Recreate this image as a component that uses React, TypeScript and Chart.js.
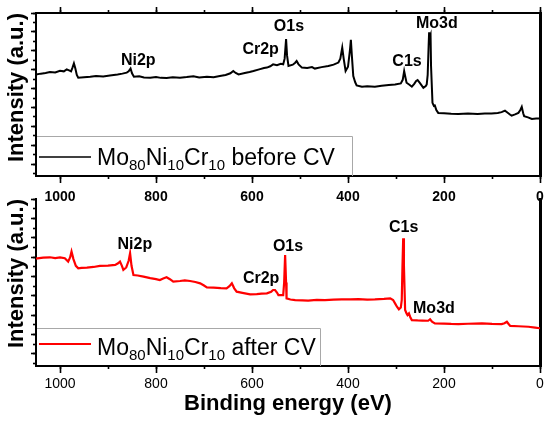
import React, { useEffect, useRef } from "react";
import { Chart, registerables } from "chart.js";
Chart.register(...registerables);

const FONT = "'Liberation Sans', Arial, Helvetica, sans-serif";

// ---- Data ----
const xTickLabels = ["1000", "800", "600", "400", "200", "0"];

const beforeLabel = "Mo80Ni10Cr10 before CV";
const beforeBE = [1050, 1040, 1030, 1021, 1010, 1000, 992, 986, 980, 977, 974, 971, 968, 965, 962, 950, 937, 925, 910, 896, 880, 870, 861, 857, 853, 850, 846, 835, 825, 812, 800, 790, 778, 765, 750, 736, 722, 710, 694, 680, 667, 655, 645, 639, 634, 628, 615, 605, 597, 585, 575, 569, 562, 556, 548, 540, 535, 532, 529, 527, 524, 515, 510, 507, 503, 496, 485, 475, 469, 455, 441, 430, 420, 416, 412, 409, 405, 400, 396, 394, 392, 389, 385, 382, 371, 360, 344, 330, 315, 302, 290, 286, 283, 280, 278, 272, 267, 262, 258, 255, 250, 243, 238, 236, 234, 232, 231, 229.5, 228, 227, 224, 221, 219, 216, 212, 200, 185, 170, 150, 130, 115, 101, 88, 80, 73, 68, 62, 59, 52, 45, 41, 38, 35, 33, 25, 17, 8, 0];
const beforeI = [62.3, 62.8, 63.2, 63.8, 63.5, 64.6, 64.2, 65.4, 64.6, 64.2, 66.5, 69.1, 66, 62, 60.3, 60.6, 60.9, 61.3, 61.0, 61.7, 62.3, 62.8, 63.4, 64.2, 65.9, 63, 60.9, 61.2, 60.5, 60.3, 60.8, 60.2, 60.1, 60.6, 60.3, 60.7, 61.2, 60.5, 60.9, 60.6, 61.3, 62.0, 63.0, 64.4, 63.2, 62.3, 63.2, 63.8, 64.4, 65.4, 66.2, 66.5, 67.3, 68.5, 68.0, 68.8, 68.5, 72, 84.0, 74, 67.5, 68.3, 69.5, 70.6, 68.5, 66.5, 66.2, 66.8, 65.9, 66.8, 67.5, 68.3, 69.6, 72, 78.8, 72, 64.4, 67, 77, 83.5, 74, 61.3, 57.5, 55.6, 54.8, 55.0, 54.8, 55.3, 55.8, 56.2, 56.8, 59, 64.4, 60, 57.2, 56, 54.8, 56.5, 58.3, 58.8, 57, 54.1, 55.2, 56.2, 62, 80, 88.1, 85, 86.4, 67.5, 44.9, 43, 43.2, 40.5, 38.7, 38.5, 38.2, 38.1, 38.4, 38.0, 38.3, 38.3, 38.6, 39.2, 40.1, 39, 37.6, 37.0, 37.8, 38.7, 40.5, 42.4, 38.5, 36.7, 36, 35.0, 35.3, 35.2];

const afterLabel = "Mo80Ni10Cr10 after CV";
const afterBE = [1050, 1047, 1035, 1021, 1010, 1000, 990, 983, 979, 976, 972, 967, 962, 955, 944, 930, 917, 900, 885, 879, 875, 871, 868, 862, 857, 854, 851, 847, 838, 826, 812, 800, 792, 785, 778, 771, 764, 750, 740, 729, 718, 708, 700, 694, 680, 665, 653, 647, 642, 637, 632, 620, 604, 590, 580, 569, 560, 556, 552, 548, 545, 535, 533, 531, 529, 528, 520, 510, 495, 483, 465, 448, 430, 413, 395, 378, 360, 344, 325, 312, 306, 302, 298, 294, 290, 288, 286.5, 285, 283.5, 281, 278, 276, 273, 270, 267, 255, 245, 233, 229, 225, 219, 200, 185, 170, 150, 121, 100, 80, 74, 69, 65, 62, 45, 24, 10, 0];
const afterI = [64.3, 64.5, 64.9, 65.1, 64.6, 65.0, 64.5, 62.5, 65, 68.5, 64, 60, 58.5, 58.8, 58.9, 59.3, 59.9, 60.1, 60.5, 61.5, 62.5, 60, 57.5, 59, 63, 67.5, 60, 54.5, 54.2, 53.5, 52.6, 52.0, 51.5, 52.4, 53.1, 52, 50.5, 50.9, 51.3, 50.9, 50.3, 49.5, 48.2, 47.1, 46.9, 46.6, 46.5, 47.8, 49.5, 46.5, 44.5, 43.8, 42.9, 43.0, 43.3, 43.5, 44.5, 45.5, 45.5, 44, 42.5, 42.5, 50, 66.5, 50, 40.5, 39.8, 39.5, 39.3, 39.1, 39.6, 39.5, 39.7, 39.9, 39.9, 40.1, 39.8, 39.9, 40.2, 40.5, 39.5, 37.5, 35.5, 33.9, 35, 39.5, 60, 76.5, 60, 33.5, 31.5, 30.5, 31.5, 29, 27.5, 27.3, 27.2, 27.1, 28.0, 26.5, 25.5, 25.4, 25.2, 25.1, 25.3, 25.5, 25.2, 25.1, 25.6, 26.5, 25, 24.0, 23.8, 23.5, 23, 22.6];

const peakNames = ["Ni2p", "Cr2p", "O1s", "C1s", "Mo3d"];
const beforePeakBE = [837, 582, 523, 277, 215];
const beforePeakI = [71.0, 77.8, 91.4, 70.4, 93.2];
const afterPeakBE = [844, 581, 525, 284, 221];
const afterPeakI = [72.5, 52.1, 71.3, 82.6, 34.1];

// ---- Plugins ----
const peakLabelPlugin = {
  id: "peakLabels",
  afterDatasetsDraw(chart: any, _args: any, opts: any) {
    const { ctx } = chart;
    const x = chart.scales.x;
    const y = chart.scales.y;
    ctx.save();
    ctx.font = `bold ${opts.size}px ${FONT}`;
    ctx.fillStyle = "#000";
    ctx.textAlign = "center";
    ctx.textBaseline = "middle";
    opts.names.forEach((n: string, i: number) => {
      ctx.fillText(n, x.getPixelForValue(opts.be[i]), y.getPixelForValue(opts.intensity[i]));
    });
    ctx.restore();
  },
};

const boxLegendPlugin = {
  id: "boxLegend",
  afterDraw(chart: any, _args: any, opts: any) {
    const ds = chart.data.datasets[0];
    const { ctx } = chart;
    const { left, bottom } = chart.chartArea;
    const parts = String(ds.label).split(/(\d+)/).filter((s: string) => s.length > 0);
    ctx.save();
    let xPos = left + opts.textOffset;
    const base = bottom - opts.baselineOffset;
    ctx.textAlign = "left";
    ctx.textBaseline = "alphabetic";
    ctx.fillStyle = "#000";
    for (const p of parts) {
      const sub = /^\d+$/.test(p);
      ctx.font = `${sub ? opts.subSize : opts.size}px ${FONT}`;
      ctx.fillText(p, xPos, base + (sub ? opts.subDrop : 0));
      xPos += ctx.measureText(p).width;
    }
    const right = Math.round(xPos + opts.rightPad) + 0.5;
    const top = Math.round(bottom - opts.height) + 0.5;
    ctx.strokeStyle = "#a8a8a8";
    ctx.lineWidth = 1;
    ctx.beginPath();
    ctx.moveTo(left + 1, top);
    ctx.lineTo(right, top);
    ctx.lineTo(right, bottom);
    ctx.stroke();
    ctx.strokeStyle = ds.borderColor;
    ctx.lineWidth = opts.lineWidth;
    ctx.beginPath();
    ctx.moveTo(left + 3, bottom - opts.lineOffset);
    ctx.lineTo(left + 55, bottom - opts.lineOffset);
    ctx.stroke();
    ctx.restore();
  },
};

// ---- Helpers ----
const fixSize = (prop: "width" | "height", v: number) => (scale: any) => {
  scale[prop] = v;
};
const yTicks = (step: number, every: number) => (scale: any) => {
  const t: any[] = [];
  let k = 0;
  for (let v = scale.max; v >= scale.min - 1e-6; v -= step, k++) {
    if (k % every === 0) t.push({ value: v });
  }
  scale.ticks = t;
};
const xCallback = (v: any) => (xTickLabels.includes(String(v)) ? String(v) : "");

function xAxes(opts: { withTop: boolean; bold: boolean; labelPad: number; bottomH: number; title: boolean }) {
  const common = { type: "linear", min: 0, max: 1050, reverse: true };
  const scales: any = {
    x: {
      ...common,
      position: "bottom",
      weight: 1,
      ticks: {
        stepSize: 200,
        includeBounds: false,
        autoSkip: false,
        maxRotation: 0,
        color: "#000",
        padding: opts.labelPad,
        font: { family: FONT, size: 14, weight: opts.bold ? "bold" : "normal" },
        callback: xCallback,
      },
      grid: { drawOnChartArea: false, tickLength: 7, tickWidth: 1.6, tickColor: "#000" },
      border: { display: true, color: "#000", width: 2 },
      title: {
        display: opts.title,
        text: "Binding energy (eV)",
        color: "#000",
        font: { family: FONT, size: 22, weight: "bold" },
        padding: { top: 0, bottom: 6 },
      },
      afterFit: fixSize("height", opts.bottomH),
    },
    xMinor: {
      ...common,
      position: "bottom",
      weight: 0,
      ticks: { display: false, stepSize: 100, includeBounds: false },
      grid: { drawOnChartArea: false, tickLength: 3, tickWidth: 1.6, tickColor: "#000" },
      border: { display: false },
      afterFit: fixSize("height", 0),
    },
  };
  if (opts.withTop) {
    scales.xTop = {
      ...common,
      position: "top",
      weight: 1,
      ticks: { display: false, stepSize: 200, includeBounds: false },
      grid: { drawOnChartArea: false, tickLength: 6, tickWidth: 1.6, tickColor: "#000" },
      border: { display: true, color: "#000", width: 2 },
      afterFit: fixSize("height", 13),
    };
    scales.xTopMinor = {
      ...common,
      position: "top",
      weight: 0,
      ticks: { display: false, stepSize: 100, includeBounds: false },
      grid: { drawOnChartArea: false, tickLength: 3, tickWidth: 1.6, tickColor: "#000" },
      border: { display: false },
      afterFit: fixSize("height", 0),
    };
  }
  return scales;
}

function yAxes() {
  return {
    y: {
      type: "linear",
      position: "left",
      min: 0,
      max: 100,
      weight: 1,
      ticks: { display: false },
      afterBuildTicks: yTicks(5.8, 2),
      grid: { drawOnChartArea: false, tickLength: 5, tickWidth: 1.6, tickColor: "#000" },
      border: { display: true, color: "#000", width: 2 },
      title: {
        display: true,
        text: "Intensity (a.u.)",
        align: "end",
        color: "#000",
        font: { family: FONT, size: 22, weight: "bold" },
        padding: { top: 4, bottom: 0 },
      },
      afterFit: fixSize("width", 36),
    },
    yMinor: {
      type: "linear",
      position: "left",
      min: 0,
      max: 100,
      weight: 0,
      ticks: { display: false },
      afterBuildTicks: yTicks(5.8, 1),
      grid: { drawOnChartArea: false, tickLength: 3, tickWidth: 1.6, tickColor: "#000" },
      border: { display: false },
      afterFit: fixSize("width", 0),
    },
    yRight: {
      type: "linear",
      position: "right",
      min: 0,
      max: 100,
      ticks: { display: false },
      grid: { display: false, drawTicks: false },
      border: { display: true, color: "#000", width: 3 },
      afterFit: fixSize("width", 10),
    },
  };
}

function makeConfig(kind: "before" | "after"): any {
  const isTop = kind === "before";
  const be = isTop ? beforeBE : afterBE;
  const inten = isTop ? beforeI : afterI;
  return {
    type: "line",
    data: {
      datasets: [
        {
          label: isTop ? beforeLabel : afterLabel,
          data: be.map((x, i) => ({ x, y: inten[i] })),
          borderColor: isTop ? "#000000" : "#ff0000",
          borderWidth: isTop ? 2 : 2.2,
          pointRadius: 0,
          tension: 0,
          fill: false,
          xAxisID: "x",
          yAxisID: "y",
        },
      ],
    },
    options: {
      responsive: true,
      maintainAspectRatio: false,
      animation: false,
      layout: { padding: { top: isTop ? 0 : 4, left: 0, right: 0, bottom: 0 } },
      scales: {
        ...xAxes({
          withTop: isTop,
          bold: isTop,
          labelPad: isTop ? 5.6 : 2.6,
          bottomH: isTop ? 34 : 57,
          title: !isTop,
        }),
        ...yAxes(),
      },
      plugins: {
        legend: { display: false },
        tooltip: { enabled: false },
        peakLabels: {
          size: 16,
          names: peakNames,
          be: isTop ? beforePeakBE : afterPeakBE,
          intensity: isTop ? beforePeakI : afterPeakI,
        },
        boxLegend: {
          size: 23,
          subSize: 15,
          subDrop: 4.5,
          textOffset: 61,
          baselineOffset: 11,
          lineOffset: isTop ? 19 : 22,
          height: isTop ? 40 : 38,
          rightPad: isTop ? 17 : 4,
          lineWidth: isTop ? 1.6 : 2,
        },
      },
    },
    plugins: [peakLabelPlugin, boxLegendPlugin],
  };
}

export default function App() {
  const topRef = useRef<HTMLCanvasElement>(null);
  const botRef = useRef<HTMLCanvasElement>(null);
  useEffect(() => {
    const c1 = new Chart(topRef.current as HTMLCanvasElement, makeConfig("before"));
    const c2 = new Chart(botRef.current as HTMLCanvasElement, makeConfig("after"));
    return () => {
      c1.destroy();
      c2.destroy();
    };
  }, []);
  return (
    <div style={{ position: "absolute", left: 0, top: 0, width: 550, height: 423, background: "#fff" }}>
      <div style={{ position: "absolute", left: 0, top: 0, width: 550, height: 210 }}>
        <canvas ref={topRef} />
      </div>
      <div style={{ position: "absolute", left: 0, top: 195, width: 550, height: 228 }}>
        <canvas ref={botRef} />
      </div>
    </div>
  );
}
